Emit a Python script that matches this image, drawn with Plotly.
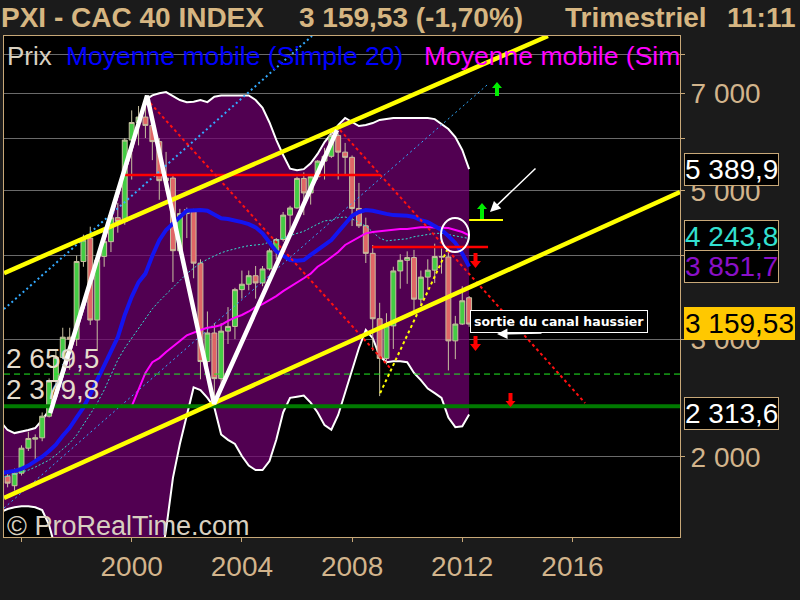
import plotly.graph_objects as go

# ---------------- data (quarterly, CAC 40) ----------------
quarters = [
    "1995-04-01", "1995-07-01", "1995-10-01",
    "1996-01-01", "1996-04-01", "1996-07-01", "1996-10-01",
    "1997-01-01", "1997-04-01", "1997-07-01", "1997-10-01",
    "1998-01-01", "1998-04-01", "1998-07-01", "1998-10-01",
    "1999-01-01", "1999-04-01", "1999-07-01", "1999-10-01",
    "2000-01-01", "2000-04-01", "2000-07-01", "2000-10-01",
    "2001-01-01", "2001-04-01", "2001-07-01", "2001-10-01",
    "2002-01-01", "2002-04-01", "2002-07-01", "2002-10-01",
    "2003-01-01", "2003-04-01", "2003-07-01", "2003-10-01",
    "2004-01-01", "2004-04-01", "2004-07-01", "2004-10-01",
    "2005-01-01", "2005-04-01", "2005-07-01", "2005-10-01",
    "2006-01-01", "2006-04-01", "2006-07-01", "2006-10-01",
    "2007-01-01", "2007-04-01", "2007-07-01", "2007-10-01",
    "2008-01-01", "2008-04-01", "2008-07-01", "2008-10-01",
    "2009-01-01", "2009-04-01", "2009-07-01", "2009-10-01",
    "2010-01-01", "2010-04-01", "2010-07-01", "2010-10-01",
    "2011-01-01", "2011-04-01", "2011-07-01", "2011-10-01",
    "2012-01-01", "2012-04-01",
]
open_q = [1890, 1870, 1810, 1890, 2060, 2125, 2135, 2300, 2596, 2817, 3020, 2999, 3920, 4250, 3204,
          3990, 4198, 4560, 4500, 5958, 6330, 6450, 6267, 5926, 5180, 5226, 4069, 4625, 4688, 3898,
          2777, 3064, 2618, 3084, 3134, 3558, 3625, 3733, 3641, 3821, 4067, 4229, 4600, 4715, 5220,
          4965, 5250, 5541, 5634, 6054, 5715, 5614, 4707, 4434, 4032, 3218, 2807, 3140, 3795, 3936,
          3974, 3443, 3715, 3805, 3989, 3982, 2982, 3160, 3460]
high_q = [1950, 1910, 1920, 2080, 2180, 2160, 2330, 2620, 2900, 3120, 3120, 4000, 4300, 4420, 3960,
          4300, 4620, 4800, 6000, 6600, 6700, 6944, 6450, 6000, 5720, 5300, 4700, 4720, 4700, 3950,
          3300, 3170, 3170, 3350, 3580, 3800, 3800, 3860, 3860, 4100, 4250, 4650, 4750, 5250, 5330,
          5280, 5560, 5800, 6168, 6100, 5900, 5650, 5140, 4560, 4150, 3400, 3280, 3850, 4020, 4060,
          4080, 3800, 3950, 4169, 4100, 4100, 3250, 3600, 3480]
low_q = [1850, 1800, 1780, 1875, 2040, 1980, 2110, 2290, 2560, 2800, 2700, 2930, 3850, 3150, 2880,
         3850, 4050, 4330, 4450, 5200, 5850, 6000, 5560, 4850, 5000, 3652, 4020, 4250, 3700, 2612,
         2650, 2401, 2560, 2950, 3000, 3450, 3550, 3450, 3600, 3800, 3950, 4200, 4300, 4700, 4600,
         4770, 5200, 5200, 5600, 5200, 5300, 4430, 4400, 3900, 2881, 2465, 2750, 2900, 3570, 3630,
         3300, 3370, 3560, 3640, 3760, 2693, 2800, 3150, 3130]
close_q = [1870, 1826, 1890, 2060, 2130, 2135, 2300, 2596, 2817, 3020, 2999, 3920, 4220, 3204, 3940,
           4198, 4560, 4500, 5958, 6330, 6450, 6267, 5926, 5180, 5226, 4069, 4625, 4688, 3898, 2777,
           3064, 2618, 3084, 3134, 3558, 3625, 3733, 3641, 3821, 4067, 4229, 4600, 4715, 5220, 4965,
           5250, 5541, 5634, 6054, 5715, 5614, 4707, 4434, 4032, 3218, 2807, 3140, 3795, 3936, 3974,
           3443, 3715, 3805, 3989, 3982, 2982, 3160, 3424, 3159.53]

boll_upper = [2255, 2193, 2170, 2180, 2193, 2208, 2270, 2350, 2449, 2641, 2859, 3085, 3327, 3602, 3886,
              4206, 4539, 4913, 5300, 5758, 6296, 6842, 6950, 7000, 7030, 6930, 6840, 6790, 6800, 6840,
              6790, 6920, 6950, 6950, 6950, 6950, 6950, 6840, 6660, 6330, 5960, 5660, 5400, 5370, 5390,
              5500, 5680, 5917, 6104, 6275, 6430, 6339, 6253, 6275, 6318, 6386, 6405, 6428, 6428, 6428,
              6428, 6428, 6428, 6405, 6296, 6189, 6021, 5758, 5390]
boll_lower = [1653, 1670, 1680, 1686, 1686, 1680, 1664, 1580, 1450, 1350, 1250, 1150, 1050, 1000, 950,
              920, 900, 900, 920, 950, 1000, 1080, 1200, 1350, 1556, 1860, 2090, 2316, 2540, 2517,
              2450, 2370, 2160, 2120, 2090, 2005, 1940, 1910, 1910, 1970, 2120, 2330, 2450, 2460, 2470,
              2410, 2330, 2230, 2195, 2310, 2500, 2697, 2910, 3096, 3010, 2830, 2770, 2780, 2780, 2770,
              2670, 2605, 2530, 2490, 2450, 2290, 2215, 2222, 2314]
ma_blue = [1890, 1897, 1905, 1918, 1940, 1970, 2000, 2040, 2085, 2150, 2210, 2290, 2370, 2480, 2605,
           2745, 2890, 3020, 3260, 3470, 3650, 3760, 4000, 4220, 4370, 4460, 4570, 4670, 4680, 4680,
           4670, 4600, 4550, 4540, 4520, 4490, 4460, 4410, 4320, 4190, 4060, 4000, 3940, 3930, 3940,
           4010, 4080, 4140, 4220, 4340, 4460, 4590, 4650, 4680, 4670, 4640, 4620, 4600, 4600, 4590,
           4570, 4520, 4490, 4430, 4370, 4280, 4180, 4030, 3852]
ma_magenta = [None, None, None, None, None, None, None, None, None, None, None, None, None, None, None,
              None, None, None, None, 2380, 2520, 2670, 2770, 2810, 2870, 2920, 2980, 3040, 3070, 3096,
              3120, 3130, 3150, 3195, 3230, 3260, 3300, 3350, 3385, 3433, 3480, 3540, 3590, 3650, 3700,
              3760, 3850, 3910, 3980, 4050, 4150, 4210, 4270, 4320, 4340, 4350, 4370, 4370, 4385, 4385,
              4400, 4410, 4410, 4410, 4410, 4400, 4370, 4340, 4290]
ma_cyan = [1860, 1870, 1885, 1897, 1910, 1930, 1955, 1977, 2012, 2054, 2096, 2155, 2231, 2317, 2407,
           2517, 2651, 2792, 2909, 3010, 3120, 3230, 3330, 3420, 3500, 3590, 3680, 3760, 3830, 3900,
           3950, 4000, 4040, 4070, 4100, 4120, 4140, 4150, 4160, 4190, 4210, 4250, 4290, 4320, 4350,
           4410, 4460, 4510, 4520, 4560, 4570, 4540, 4490, 4430, 4340, 4250, 4210, 4220, 4240, 4240,
           4270, 4290, 4300, 4320, 4320, 4300, 4290, 4270, 4244]

# drawn analysis lines (date, value)
zigzag_dates = ["1997-01-15", "2000-07-23", "2002-12-28", "2007-06-16"]
zigzag_values = [2325, 6944, 2401, 6168]
channel_low_dates = ["1995-05-14", "2019-11-27"]
channel_low_values = [1735, 4980]
channel_high_dates = ["1995-05-14", "2015-02-10"]
channel_high_values = [3767, 8528]
trend_a_dates = ["1995-05-14", "2006-07-19"]
trend_a_values = [3327, 8528]
trend_b_dates = ["1995-05-14", "2012-11-24"]
trend_b_values = [1676, 7202]
down_1_dates = ["2000-09-02", "2009-05-19"]
down_1_values = [6770, 2716]
down_2_dates = ["2007-07-24", "2016-06-17"]
down_2_values = [6169, 2407]
red_level_1_dates = ["1999-10-05", "2009-01-08"]
red_level_1 = 5282
red_level_2_dates = ["2008-09-23", "2012-12-08"]
red_level_2 = 4121
yellow_level_dates = ["2012-04-01", "2013-06-24"]
yellow_level = 4523
yellow_dotted_dates = ["2009-01-08", "2011-06-14"]
yellow_dotted_values = [2491, 4079]
full_span = ["1995-05-14", "2019-11-27"]
support_dashed = 2659.5
support_solid = 2379.8

y_tick_values = [2000, 3000, 4000, 5000, 6000, 7000, 8000]
y_tick_text = ["2 000", "3 000", "", "5 000", "", "7 000", ""]

# ---------------- layout helpers ----------------
TAN = "#d2b48c"
FRAME = "#c8a878"
FONT = "Liberation Sans, Arial, sans-serif"


def PX(x):
    return (x - 4) / 676.0


def PY(y):
    return (537 - y) / 501.0


fig = go.Figure()

# Bollinger envelope on main axes (under candles)
fig.add_trace(go.Scatter(x=quarters, y=boll_lower, mode="lines",
                         line=dict(color="white", width=2), hoverinfo="skip"))
fig.add_trace(go.Scatter(x=quarters, y=boll_upper, mode="lines", fill="tonexty",
                         fillcolor="rgba(112,0,112,0.72)",
                         line=dict(color="white", width=2), hoverinfo="skip"))

ov = dict(xaxis="x2", yaxis="y2", hoverinfo="skip")

fig.add_trace(go.Candlestick(
    x=quarters, open=open_q, high=high_q, low=low_q, close=close_q,
    increasing=dict(line=dict(color="#c8c0a0", width=1), fillcolor="#44cc44"),
    decreasing=dict(line=dict(color="#c8c0a0", width=1), fillcolor="#e06666"),
    whiskerwidth=0, **ov))


def line(x, y, color, width, dash="solid"):
    fig.add_trace(go.Scatter(x=x, y=y, mode="lines",
                             line=dict(color=color, width=width, dash=dash), **ov))


line(quarters, ma_cyan, "#33e0d0", 1, "2px,2px")
line(trend_b_dates, trend_b_values, "#33aaff", 1, "2px,3px")
line(trend_a_dates, trend_a_values, "#33aaff", 2, "2px,3px")
line(quarters, ma_magenta, "#ff00ff", 2)
line(quarters, ma_blue, "#1414f0", 4)
line(full_span, [support_dashed, support_dashed], "#22ee22", 1, "6px,4px")
line(full_span, [support_solid, support_solid], "#007a00", 4)
line(red_level_1_dates, [red_level_1, red_level_1], "#ff0000", 2.5)
line(red_level_2_dates, [red_level_2, red_level_2], "#ff0000", 2.5)
line(down_1_dates, down_1_values, "#ff1010", 2, "dot")
line(down_2_dates, down_2_values, "#ff1010", 2, "dot")
line(yellow_dotted_dates, yellow_dotted_values, "#ffff00", 2, "dot")
line(yellow_level_dates, [yellow_level, yellow_level], "#ffff00", 2)
line(channel_low_dates, channel_low_values, "#ffff00", 4.5)
line(channel_high_dates, channel_high_values, "#ffff00", 4.5)
line(zigzag_dates, zigzag_values, "white", 4.5)

x_range = ["1995-05-14", "2019-11-27"]
y_range = [3.1809, 3.9309]

axis_common = dict(showline=True, linecolor=FRAME, linewidth=1, mirror=True)

fig.update_layout(
    width=800, height=600,
    margin=dict(l=4, r=120, t=36, b=63, autoexpand=False),
    paper_bgcolor="#1b1b1b", plot_bgcolor="black",
    showlegend=False, hovermode=False,
    boxgap=0.15, boxgroupgap=0.15,
    font=dict(family=FONT, color=TAN),
    xaxis=dict(type="date", range=x_range, showgrid=False, zeroline=False,
               tick0="2000-01-01", dtick="M48", tickformat="%Y",
               ticks="outside", ticklen=4, tickcolor=FRAME,
               tickfont=dict(size=28, color=TAN, family=FONT),
               rangeslider=dict(visible=False), **axis_common),
    yaxis=dict(type="log", range=y_range, side="right",
               tickvals=y_tick_values, ticktext=y_tick_text,
               showgrid=True, gridcolor="#6a6a6a", gridwidth=1, zeroline=False,
               ticks="outside", ticklen=4, tickcolor=FRAME,
               tickfont=dict(size=28, color=TAN, family=FONT), **axis_common),
    xaxis2=dict(type="date", range=x_range, overlaying="x", visible=False,
                rangeslider=dict(visible=False)),
    yaxis2=dict(type="log", range=y_range, overlaying="y", visible=False),
)

ann = []


def text(x, y, s, size, color, anchor="left", **kw):
    ann.append(dict(xref="paper", yref="paper", x=PX(x), y=PY(y), text=s,
                    showarrow=False, xanchor=anchor, yanchor="middle",
                    font=dict(size=size, color=color, family=FONT), **kw))


# title
text(-1, 18, "<b>PXI - CAC 40 INDEX</b>", 28, "#d6b682")
text(297, 18, "<b>3 159,53 (-1,70%)</b>", 28, "#d6b682")
text(563, 18, "<b>Trimestriel</b>", 28, "#d6b682")
text(725, 18, "<b>11:11</b>", 28, "#d6b682")

# legend row
text(5, 56, "Prix", 26, "#d8d0c0")
text(64, 56, "Moyenne mobile (Simple 20)", 26.5, "#0000ff")
text(422, 56, "Moyenne mobile (Sim", 26.5, "#ff00ff")

# left level labels
text(4, 359, "2 659,5", 28, "#e4dccc")
text(4, 389, "2 379,8", 28, "#e4dccc")

# watermark
text(5, 526, "© ProRealTime.com", 27, "#d8d0c0")


# right value boxes
def vbox(ytop, ybot, s, color, bg, border):
    ann.append(dict(xref="paper", yref="paper", x=PX(684), y=PY((ytop + ybot) / 2), text=s,
                    showarrow=False, xanchor="left", yanchor="middle",
                    font=dict(size=28, color=color, family=FONT),
                    bgcolor=bg, bordercolor=border, borderwidth=1, borderpad=0))


vbox(153, 187, "5 389,9", "white", "black", FRAME)
vbox(222, 250, "4 243,8", "#33e0d0", "black", FRAME)
vbox(250, 283, "3 851,7", "#8a10c8", "black", FRAME)
vbox(307, 340, "3 159,53", "black", "#ffc800", "#ffc800")
vbox(397, 430, "2 313,6", "white", "black", FRAME)

# comment box
ann.append(dict(xref="paper", yref="paper", x=PX(558.5), y=PY(321.5),
                text="<b>sortie du canal haussier</b>", showarrow=False,
                xanchor="center", yanchor="middle",
                font=dict(size=12.5, color="white", family="DejaVu Sans, Verdana, sans-serif"),
                bgcolor="black", bordercolor="white", borderwidth=1, borderpad=3))

# white arrows
ann.append(dict(xref="paper", yref="paper", x=PX(490), y=PY(212), text="",
                showarrow=True, ax=47, ay=-45, arrowhead=2, arrowsize=1.4,
                arrowwidth=1.5, arrowcolor="white"))
ann.append(dict(xref="paper", yref="paper", x=PX(497), y=PY(334), text="",
                showarrow=True, ax=46, ay=-1, arrowhead=2, arrowsize=1.4,
                arrowwidth=1.5, arrowcolor="white"))

shapes = []


def arrow(cx, tip, tail, hw, sw, hh, color):
    d = 1 if tail > tip else -1
    pts = [(cx, tip), (cx + hw, tip + d * hh), (cx + sw, tip + d * hh), (cx + sw, tail),
           (cx - sw, tail), (cx - sw, tip + d * hh), (cx - hw, tip + d * hh)]
    path = "M " + " L ".join(f"{PX(x):.5f},{PY(y):.5f}" for x, y in pts) + " Z"
    shapes.append(dict(type="path", xref="paper", yref="paper", path=path,
                       fillcolor=color, line=dict(width=0), layer="above"))


arrow(497, 82, 96, 5, 2, 6, "#00ee00")
arrow(482, 203, 219, 5, 2, 6, "#00ee00")
arrow(475.5, 268, 253, 5.5, 2, 7, "#ff0000")
arrow(475.5, 351, 336, 5.5, 2, 7, "#ff0000")
arrow(510.5, 407, 393, 5, 2, 6, "#ff0000")

shapes.append(dict(type="circle", xref="paper", yref="paper",
                   x0=PX(441), x1=PX(469), y0=PY(252), y1=PY(218),
                   line=dict(color="white", width=2), layer="above"))

fig.update_layout(annotations=ann, shapes=shapes)

fig.write_html(
    "out.html",
    config={"displayModeBar": False},
    post_script="document.body.style.margin='0';document.body.style.padding='0';"
                "document.body.style.background='#1b1b1b';",
)
